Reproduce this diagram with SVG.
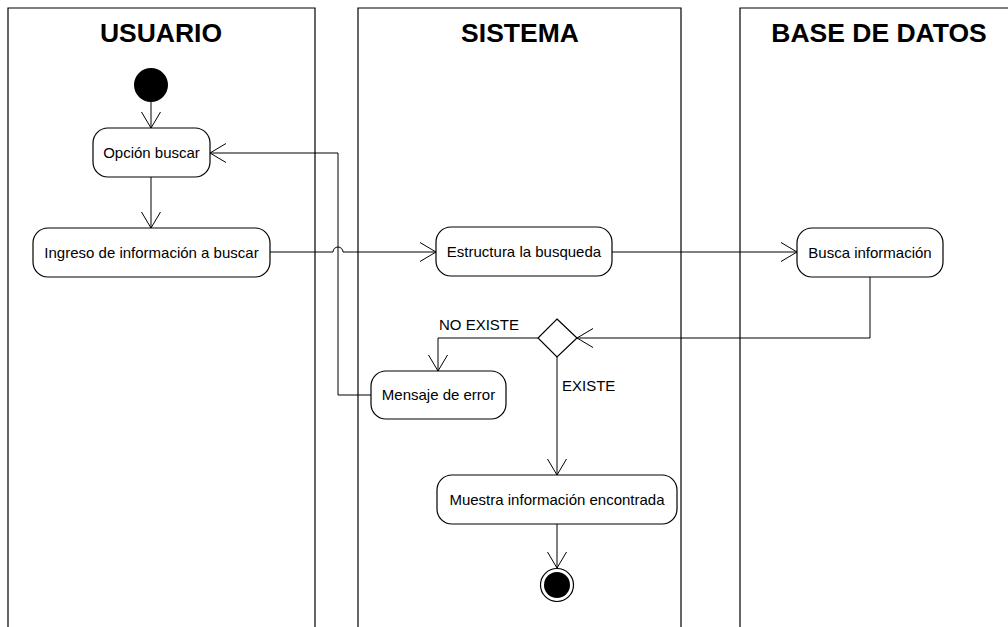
<svg xmlns="http://www.w3.org/2000/svg" width="1008" height="627" viewBox="0 0 1008 627">
<defs>
<marker id="arr" markerWidth="18" markerHeight="22" refX="17" refY="11" orient="auto" markerUnits="userSpaceOnUse">
<path d="M1,1.5 L17,11 L1,20.5" fill="none" stroke="#000" stroke-width="1"/>
</marker>
<style>
.lane{fill:none;stroke:#000;stroke-width:1.2}
.title{font-family:"Liberation Sans",Arial,sans-serif;font-weight:bold;font-size:26.5px;text-anchor:middle;fill:#000}
.node{fill:#fff;stroke:#000;stroke-width:1.2}
.lbl{font-family:"Liberation Sans",Arial,sans-serif;font-size:15px;text-anchor:middle;fill:#000}
.glbl{font-family:"Liberation Sans",Arial,sans-serif;font-size:15px;fill:#000}
.conn{fill:none;stroke:#000;stroke-width:1}
</style>
</defs>
<rect width="1008" height="627" fill="#fff"/>
<g id="lanes">
<path class="lane" d="M8,627 V8 H315 V627"/>
<path class="lane" d="M358,627 V8 H681 V627"/>
<path class="lane" d="M740,627 V8 H1010"/>
<text class="title" x="161" y="42">USUARIO</text>
<text class="title" x="520" y="42">SISTEMA</text>
<text class="title" x="879" y="42">BASE DE DATOS</text>
</g>
<g id="connectors">
<path class="conn" d="M151,102 V128" marker-end="url(#arr)"/>
<path class="conn" d="M151,177 V228" marker-end="url(#arr)"/>
<path class="conn" d="M270,252 H333 A5,5 0 0 1 343,252 H436" marker-end="url(#arr)"/>
<path class="conn" d="M371,395 H338 V153 H210" marker-end="url(#arr)"/>
<path class="conn" d="M612,252 H797" marker-end="url(#arr)"/>
<path class="conn" d="M870,277 V338 H577" marker-end="url(#arr)"/>
<path class="conn" d="M538,338 H438 V371" marker-end="url(#arr)"/>
<path class="conn" d="M557,357 V475" marker-end="url(#arr)"/>
<path class="conn" d="M557,524 V568" marker-end="url(#arr)"/>
<text class="glbl" x="439" y="330">NO EXISTE</text>
<text class="glbl" x="562" y="391">EXISTE</text>
</g>
<g id="start"><circle cx="151" cy="85" r="17" fill="#000"/></g>
<g id="opcion"><rect class="node" x="93" y="128" width="117" height="49" rx="15"/><text class="lbl" x="151.5" y="158">Opción buscar</text></g>
<g id="ingreso"><rect class="node" x="33" y="228" width="237" height="49" rx="15"/><text class="lbl" x="151.5" y="258">Ingreso de información a buscar</text></g>
<g id="estructura"><rect class="node" x="436" y="227" width="176" height="49" rx="15"/><text class="lbl" x="524" y="257">Estructura la busqueda</text></g>
<g id="busca"><rect class="node" x="797" y="228" width="146" height="49" rx="15"/><text class="lbl" x="870" y="258">Busca información</text></g>
<g id="decision"><path class="node" d="M557,319 L577,338 L557,357 L538,338 Z"/></g>
<g id="mensaje"><rect class="node" x="371" y="371" width="135" height="48" rx="15"/><text class="lbl" x="438.5" y="400">Mensaje de error</text></g>
<g id="muestra"><rect class="node" x="437" y="475" width="240" height="49" rx="15"/><text class="lbl" x="557" y="505">Muestra información encontrada</text></g>
<g id="end"><circle cx="557" cy="585" r="16.5" fill="#fff" stroke="#000" stroke-width="1.2"/><circle cx="557" cy="585" r="13" fill="#000"/></g>
</svg>
